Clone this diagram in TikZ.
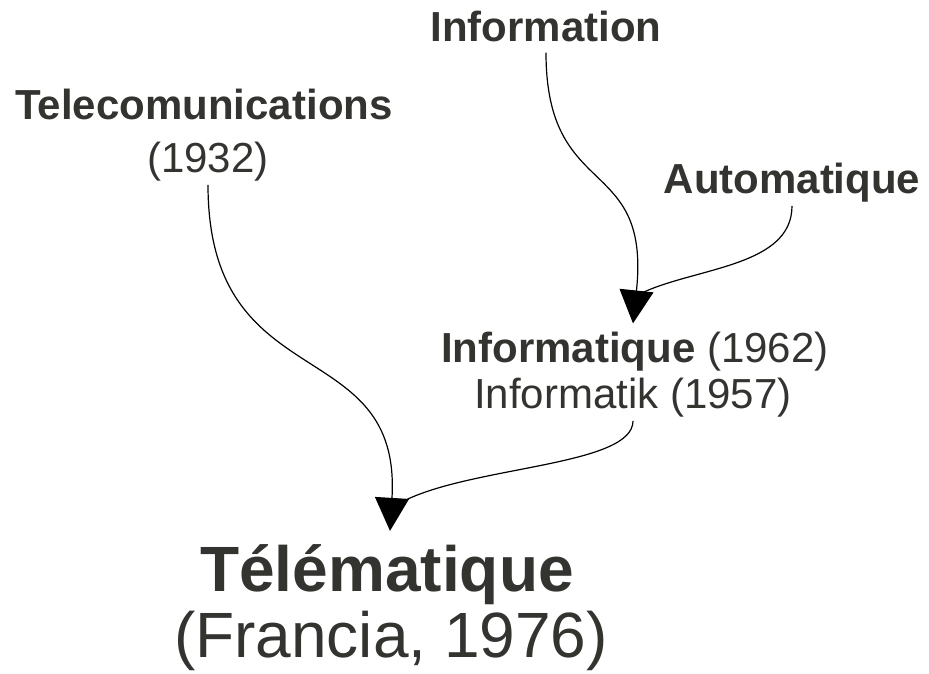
\documentclass[tikz,border=0pt]{standalone}
\usepackage{fontspec}
\setmainfont{Liberation Sans}
\usetikzlibrary{arrows.meta,calc}
\definecolor{ink}{HTML}{333330}

\begin{document}
\begin{tikzpicture}[x=1pt,y=-1pt,
	word/.style={text=ink, inner sep=0pt, anchor=base, font=\fontsize{42}{46}\selectfont},
	bigword/.style={text=ink, inner sep=0pt, anchor=base, font=\fontsize{64}{74}\selectfont},
	link/.style={black, line width=1.2pt},
	head/.style={-{Triangle[length=33pt,width=34pt]}}]
	\useasboundingbox (0,0) rectangle (929,673);
	
	\node[word] (information) at (546,41) {\textbf{Information}};
	\node[word] (telecom) at (204,119) {\textbf{Telecomunications}};
	\node[word] (telecomyear) at (208,172) {(1932)};
	\node[word] (automatique) at (792,193) {\textbf{Automatique}};
	\node[word] (informatique) at (635,362) {\textbf{Informatique} (1962)};
	\node[word] (informatik) at (633,408) {Informatik (1957)};
	\node[bigword] (telematique) at (387,591) {\textbf{Télématique}};
	\node[bigword] (francia) at (391,657) {(Francia, 1976)};
	
	\coordinate (tipinfo) at ($(informatique.north)+(-2,-8)$);
	\coordinate (tiptele) at ($(telematique.north)+(3,-13)$);
	
	\draw[link, head] ([yshift=-11pt]information.south) .. controls +(0,150) and +(18,-170) .. (tipinfo);
	\draw[link] ([yshift=-4pt]automatique.south) .. controls +(0,60) and +(55,-25) .. ($(tipinfo)+(10,-31)$);
	\draw[link, head] ([yshift=-4pt]telecomyear.south) .. controls +(0,215) and +(12,-200) .. (tiptele);
	\draw[link] ([yshift=-4pt]informatik.south) .. controls +(0,45) and +(70,-35) .. ($(tiptele)+(14,-30)$);
	
\end{tikzpicture}
\end{document}
